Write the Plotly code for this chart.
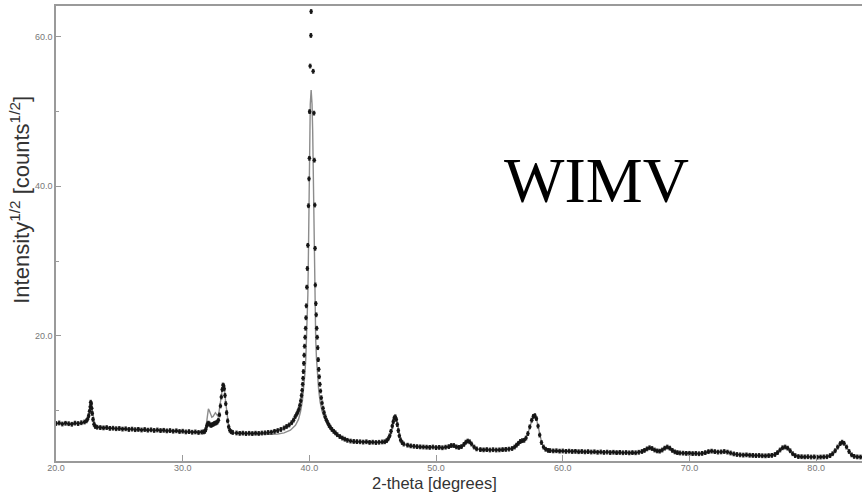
import plotly.graph_objects as go

obs_x = [
    20.0, 20.25, 20.5, 20.75, 21.0, 21.25, 21.5, 21.75, 22.0, 22.25,
    22.4, 22.5, 22.58, 22.65, 22.7, 22.74, 22.78, 22.82, 22.86, 22.92, 23.0, 23.1,
    23.25, 23.5, 23.75, 24.0, 24.25, 24.5, 24.75, 25.0, 25.25, 25.5, 25.75, 26.0,
    26.25, 26.5, 26.75, 27.0, 27.25, 27.5, 27.75, 28.0, 28.25, 28.5, 28.75, 29.0,
    29.25, 29.5, 29.75, 30.0, 30.25, 30.5, 30.75, 31.0, 31.25, 31.5,
    31.65, 31.75, 31.82, 31.9, 31.97, 32.03, 32.1, 32.18, 32.26, 32.34, 32.42, 32.5,
    32.58, 32.66, 32.74, 32.82, 32.9, 32.98, 33.05, 33.12, 33.18, 33.23, 33.28, 33.34,
    33.4, 33.47, 33.55, 33.63, 33.72, 33.82, 33.95,
    34.25, 34.5, 34.75, 35.0, 35.25, 35.5, 35.75, 36.0, 36.25, 36.5, 36.75,
    37.0, 37.25, 37.5, 37.75, 38.0, 38.2, 38.4, 38.6, 38.75, 38.88, 39.0, 39.1,
    39.18, 39.25, 39.32, 39.38, 39.43, 39.47, 39.5, 39.53, 39.56, 39.59, 39.62, 39.66,
    39.7, 39.73, 39.76, 39.8, 39.84, 39.88, 39.93, 39.97, 40.0, 40.02, 40.06, 40.12,
    40.14, 40.3, 40.36, 40.39, 40.43, 40.45, 40.47, 40.51, 40.54, 40.58, 40.62, 40.66,
    40.7, 40.74, 40.78, 40.83, 40.88, 40.94, 41.0, 41.08, 41.16, 41.25, 41.35, 41.45,
    41.55, 41.65, 41.78, 41.92, 42.05, 42.2, 42.4, 42.6, 42.8, 43.0,
    43.25, 43.5, 43.75, 44.0, 44.25, 44.5, 44.75, 45.0, 45.25, 45.5, 45.75,
    45.95, 46.1, 46.22, 46.34, 46.44, 46.54, 46.62, 46.7, 46.78, 46.86, 46.94, 47.02,
    47.1, 47.2, 47.32, 47.45,
    47.75, 48.0, 48.25, 48.5, 48.75, 49.0, 49.25, 49.5, 49.75, 50.0, 50.25, 50.5, 50.75,
    51.0, 51.2, 51.4, 51.6, 51.8,
    52.0, 52.2, 52.35, 52.5, 52.65, 52.8, 53.0, 53.2,
    53.5, 53.75, 54.0, 54.25, 54.5, 54.75, 55.0, 55.25, 55.5, 55.75, 56.0,
    56.2, 56.35, 56.5, 56.65, 56.8, 56.95, 57.1, 57.25, 57.4, 57.55, 57.68, 57.8,
    57.92, 58.05, 58.18, 58.32, 58.48, 58.65, 58.85,
    59.0, 59.25, 59.5, 59.75, 60.0, 60.25, 60.5, 60.75, 61.0, 61.25, 61.5, 61.75,
    62.0, 62.25, 62.5, 62.75, 63.0, 63.25, 63.5, 63.75, 64.0, 64.25, 64.5, 64.75,
    65.0, 65.25, 65.5, 65.75, 66.0, 66.25,
    66.45, 66.65, 66.85, 67.05, 67.25, 67.45, 67.65, 67.85, 68.05, 68.25, 68.45, 68.65,
    68.85, 69.05,
    69.25, 69.5, 69.75, 70.0, 70.25, 70.5, 70.75, 71.0,
    71.25, 71.5, 71.75, 72.0, 72.25, 72.5, 72.75, 73.0, 73.25,
    73.5, 73.75, 74.0, 74.25, 74.5, 74.75, 75.0, 75.25, 75.5, 75.75, 76.0, 76.25, 76.5,
    76.75, 76.95, 77.15, 77.35, 77.55, 77.75, 77.95, 78.15, 78.35, 78.6,
    78.85, 79.1, 79.35, 79.6, 79.85, 80.1, 80.35, 80.6, 80.85,
    81.1, 81.3, 81.5, 81.7, 81.9, 82.05, 82.2, 82.4, 82.6, 82.8, 83.0, 83.25, 83.5, 83.75,
]
obs_y = [
    8.25, 8.32, 8.18, 8.28, 8.22, 8.15, 8.3, 8.24, 8.35, 8.45,
    8.6, 8.85, 9.3, 9.9, 10.5, 11.1, 10.9, 10.3, 9.6, 8.8, 8.15, 7.85,
    7.75, 7.7, 7.66, 7.7, 7.6, 7.62, 7.55, 7.58, 7.5, 7.54, 7.45, 7.5,
    7.42, 7.46, 7.38, 7.44, 7.36, 7.4, 7.32, 7.38, 7.3, 7.34, 7.26, 7.3,
    7.22, 7.27, 7.18, 7.22, 7.12, 7.16, 7.08, 7.12, 7.05, 7.1,
    7.12, 7.2, 7.45, 7.9, 8.2, 8.3, 8.2, 8.05, 8.0, 8.1, 8.15, 8.25,
    8.3, 8.35, 8.45, 8.7, 9.4, 10.6, 11.8, 12.8, 13.4, 13.3, 12.9, 12.0,
    10.9, 9.7, 8.6, 7.8, 7.35, 7.15, 7.05,
    6.98, 6.93, 6.96, 6.9, 6.94, 6.9, 6.95, 6.92, 6.97, 7.0, 7.05,
    7.08, 7.2, 7.3, 7.45, 7.65, 7.85, 8.05, 8.35, 8.7, 9.15, 9.5, 9.85,
    10.2, 10.7, 11.3, 12.0, 12.7, 13.5, 14.3, 15.2, 16.3, 17.4, 18.6, 19.8,
    21.0, 22.4, 24.0, 26.5, 29.0, 32.1, 37.4, 41.0, 43.75, 50.0, 56.1, 60.2,
    63.4, 55.4, 49.8, 43.5, 37.5, 31.7, 26.8, 24.3, 22.8, 21.0, 19.8, 18.4,
    16.8, 15.5, 14.5, 13.5, 12.6, 11.7, 11.0, 10.3, 9.7, 9.16, 8.7, 8.35,
    8.0, 7.75, 7.45, 7.2, 7.0, 6.75, 6.5, 6.3, 6.15, 6.0,
    5.9, 5.85, 5.82, 5.8, 5.76, 5.8, 5.72, 5.75, 5.7, 5.74, 5.78,
    5.8, 5.95, 6.2, 6.6, 7.2, 7.9, 8.5, 9.0, 9.15, 8.8, 8.1, 7.3,
    6.6, 6.05, 5.7, 5.5,
    5.35, 5.25, 5.2, 5.15, 5.12, 5.1, 5.08, 5.05, 5.1, 5.02, 5.05, 5.0, 5.08,
    5.15, 5.3, 5.3, 5.12, 5.05,
    5.15, 5.45, 5.75, 5.9, 5.8, 5.5, 5.1, 4.85,
    4.75, 4.72, 4.75, 4.7, 4.74, 4.7, 4.72, 4.75, 4.78, 4.82, 4.9,
    5.1, 5.35, 5.6, 5.85, 5.95, 6.0, 6.3, 6.9, 7.8, 8.7, 9.2, 9.3,
    8.9, 7.9, 6.7, 5.7, 5.1, 4.8, 4.65,
    4.62, 4.58, 4.6, 4.55, 4.57, 4.52, 4.55, 4.5, 4.52, 4.47, 4.5, 4.45,
    4.48, 4.43, 4.46, 4.4, 4.44, 4.38, 4.42, 4.36, 4.4, 4.35, 4.38, 4.33,
    4.36, 4.32, 4.35, 4.33, 4.4, 4.5,
    4.65, 4.85, 5.0, 4.9, 4.7, 4.58, 4.55, 4.7, 4.95, 5.1, 4.95, 4.65,
    4.45, 4.35,
    4.3, 4.28, 4.25, 4.26, 4.22, 4.24, 4.2, 4.25,
    4.35, 4.48, 4.55, 4.48, 4.42, 4.45, 4.5, 4.42, 4.3,
    4.18, 4.1, 4.05, 4.02, 4.05, 4.0, 3.98, 3.95, 3.97, 3.93, 3.92, 3.95, 3.98,
    4.1, 4.35, 4.7, 5.0, 5.1, 4.95, 4.6, 4.2, 3.95, 3.82,
    3.8, 3.78, 3.8, 3.76, 3.78, 3.74, 3.76, 3.78, 3.8,
    3.95, 4.2, 4.6, 5.1, 5.55, 5.75, 5.6, 5.1, 4.5, 4.05, 3.85, 3.78, 3.76, 3.75,
]

# ---- calculated (fitted) profile ----
fit_x = [
    20.0, 21.0, 22.0, 22.3, 22.5, 22.62, 22.7, 22.77, 22.84, 22.92, 23.02, 23.15,
    23.4, 24.0, 25.0, 26.0, 27.0, 28.0, 29.0, 30.0, 31.0, 31.6,
    31.75, 31.85, 31.95, 32.03, 32.1, 32.2, 32.3, 32.4, 32.5, 32.58, 32.66, 32.75,
    32.85, 32.95, 33.05, 33.15, 33.22, 33.3, 33.4, 33.5, 33.6, 33.72, 33.85, 34.0,
    35.0, 36.0, 37.0, 37.5, 38.0, 38.5, 38.9, 39.14, 39.3, 39.45, 39.55, 39.65,
    39.72, 39.78, 39.83, 39.88, 39.91, 39.94, 39.96, 39.98, 40.02, 40.07, 40.14,
    40.21, 40.26, 40.3, 40.32, 40.34, 40.37, 40.4, 40.45, 40.5, 40.56, 40.63, 40.73,
    40.85, 41.0, 41.2, 41.45, 41.7, 42.0, 42.4, 42.9, 43.4,
    44.0, 45.0, 45.8, 46.1, 46.3, 46.45, 46.6, 46.72, 46.8, 46.9, 47.0, 47.15,
    47.3, 47.5, 48.0, 49.0, 50.0, 51.0, 51.3, 51.6, 52.0, 52.25, 52.5, 52.75,
    53.0, 53.3, 54.0, 55.0, 55.8, 56.2, 56.5, 56.7, 56.9, 57.1, 57.3, 57.5,
    57.65, 57.78, 57.92, 58.05, 58.2, 58.35, 58.5, 58.7, 59.0, 60.0, 61.0, 62.0,
    63.0, 64.0, 65.0, 66.0, 66.4, 66.85, 67.2, 67.6, 68.0, 68.25, 68.6, 69.0,
    70.0, 71.0, 71.4, 71.75, 72.2, 72.75, 73.3, 74.0, 75.0, 76.0, 76.5, 76.9,
    77.2, 77.5, 77.8, 78.1, 78.4, 79.0, 80.0, 80.9, 81.3, 81.6, 81.9, 82.05,
    82.25, 82.5, 82.8, 83.1, 83.7,
]
fit_y = [
    8.25, 8.22, 8.28, 8.4, 8.75, 9.5, 10.2, 10.6, 10.3, 9.4, 8.5, 7.95,
    7.75, 7.66, 7.55, 7.47, 7.4, 7.33, 7.27, 7.2, 7.12, 7.1,
    7.3, 7.9, 9.2, 10.2, 10.0, 9.4, 9.1, 9.2, 9.6, 9.7, 9.5, 9.3,
    9.6, 10.8, 12.0, 13.1, 13.3, 12.8, 11.0, 9.5, 8.3, 7.5, 7.1, 6.95,
    6.88, 6.82, 6.8, 6.85, 7.0, 7.35, 8.0, 8.8, 9.8, 11.3, 12.8, 15.0,
    17.0, 19.5, 22.5, 25.5, 29.0, 33.0, 38.0, 43.0, 47.5, 51.0, 52.9,
    51.0, 47.5, 43.0, 38.0, 33.0, 29.0, 25.5, 22.5, 19.5, 17.0, 15.0, 12.8,
    11.1, 9.9, 8.9, 8.1, 7.5, 7.0, 6.6, 6.15, 5.85,
    5.8, 5.75, 5.75, 5.85, 6.2, 6.9, 8.1, 8.9, 9.05, 8.7, 7.8, 6.5,
    5.8, 5.45, 5.2, 5.1, 5.05, 5.05, 5.2, 5.1, 5.15, 5.55, 5.85, 5.6,
    5.1, 4.8, 4.73, 4.72, 4.8, 5.0, 5.45, 5.7, 5.95, 6.4, 7.2, 8.3,
    9.0, 9.25, 8.9, 7.9, 6.6, 5.6, 5.05, 4.75, 4.6, 4.55, 4.5, 4.46,
    4.42, 4.38, 4.35, 4.38, 4.6, 4.95, 4.72, 4.55, 4.85, 5.05, 4.65, 4.38,
    4.25, 4.25, 4.45, 4.55, 4.42, 4.48, 4.25, 4.05, 3.97, 3.93, 3.98, 4.3,
    4.75, 5.05, 4.9, 4.3, 3.9, 3.8, 3.77, 3.8, 4.15, 4.8, 5.5, 5.7,
    5.5, 4.8, 4.05, 3.8, 3.76,
]

x_ticks = [20, 30, 40, 50, 60, 70, 80]
x_tick_text = ["20.0", "30.0", "40.0", "50.0", "60.0", "70.0", "80.0"]
y_ticks = [20, 40, 60]
y_tick_text = ["20.0", "40.0", "60.0"]
y_minor_ticks = [10, 30, 50]

assert len(obs_x) == len(obs_y), (len(obs_x), len(obs_y))
assert len(fit_x) == len(fit_y), (len(fit_x), len(fit_y))

AXIS_GREY = "#9a9a9a"
TICK_FONT = dict(family="Liberation Sans Narrow, Liberation Sans, Arial", size=9, color="#777777")
TITLE_FONT_FAMILY = "Liberation Sans, Arial, sans-serif"

fig = go.Figure()
fig.add_trace(go.Scatter(
    x=fit_x, y=fit_y, mode="lines",
    line=dict(color="#8c8c8c", width=1.4),
    hoverinfo="skip",
))
fig.add_trace(go.Scatter(
    x=obs_x, y=obs_y, mode="markers",
    marker=dict(color="#151515", size=3.6, line=dict(width=0)),
    error_y=dict(type="constant", value=0.25, thickness=1, width=1.2, color="#222222"),
    hoverinfo="skip",
))

fig.update_layout(
    width=862, height=494,
    margin=dict(l=56, r=0, t=6, b=33),
    paper_bgcolor="white", plot_bgcolor="white",
    showlegend=False,
    xaxis=dict(
        range=[20, 83.62],
        tickvals=x_ticks, ticktext=x_tick_text,
        ticks="inside", ticklen=6, tickcolor=AXIS_GREY, tickwidth=1,
        showline=True, linecolor=AXIS_GREY, linewidth=1.5, mirror=True,
        showgrid=False, zeroline=False,
        tickfont=TICK_FONT, ticklabelstandoff=-3,
    ),
    yaxis=dict(
        range=[3.23, 64.14],
        tickvals=y_ticks, ticktext=y_tick_text,
        ticks="inside", ticklen=5, tickcolor=AXIS_GREY, tickwidth=1,
        minor=dict(tickvals=y_minor_ticks, ticks="inside", ticklen=3, tickcolor=AXIS_GREY),
        showline=True, linecolor=AXIS_GREY, linewidth=1.5, mirror=False,
        showgrid=False, zeroline=False,
        tickfont=TICK_FONT,
    ),
    annotations=[
        dict(text="WIMV", xref="paper", yref="paper", x=0.67, y=0.617,
             xanchor="center", yanchor="middle", showarrow=False,
             font=dict(family="Liberation Serif, Times New Roman, serif", size=64, color="black")),
        dict(text="2-theta [degrees]", xref="paper", yref="paper", x=0.47, y=-0.048,
             xanchor="center", yanchor="middle", showarrow=False,
             font=dict(family=TITLE_FONT_FAMILY, size=16.5, color="#333333")),
        dict(text="Intensity<sup>1/2</sup> [counts<sup>1/2</sup>]", xref="paper", yref="paper",
             x=-0.0447, y=0.574, textangle=-90,
             xanchor="center", yanchor="middle", showarrow=False,
             font=dict(family=TITLE_FONT_FAMILY, size=22, color="#333333")),
    ],
)

fig.write_html("out.html")
